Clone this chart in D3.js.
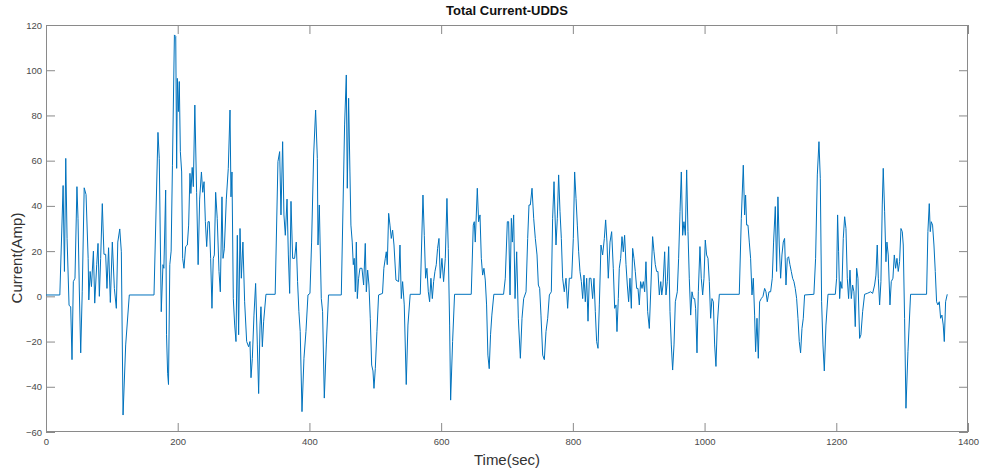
<!DOCTYPE html>
<html>
<head>
<meta charset="utf-8">
<script src="https://cdn.jsdelivr.net/npm/d3@7"></script>
<style>
  body { margin: 0; background: #fff; }
  svg { display: block; font-family: "Liberation Sans", Arial, Helvetica, sans-serif; }
</style>
</head>
<body>
<svg id="chart"></svg>
<script>
// Values (time in s, current in A)
const timeSec = [
  0, 21, 26, 28, 30, 32, 35, 37.5, 39.5, 41.5, 44, 47, 48.6, 50.6, 52.7, 55, 58, 60.8, 64, 65,
  67, 69, 72, 74, 77, 79, 81, 83, 85.5, 88, 90.6, 92.6, 95, 97.7, 100.7, 103.8, 106.8, 109, 112, 114.4,
  117, 121, 126.5, 164, 170, 172, 175, 177.6, 179, 181.7, 183, 184.7, 186, 188, 190, 192, 195, 197, 198.4, 199.4,
  201, 202.4, 204, 206, 207.5, 209.5, 212, 214.6, 216.6, 218.6, 220, 222, 223.7, 226, 228.7, 231, 233.3, 236, 238, 240,
  242, 244, 246, 248, 250, 252, 254, 255.6, 257.6, 260, 262.7, 264.7, 267.2, 268.8, 270.8, 273.8, 276.8, 279.4, 280.9, 282.4,
  284.4, 286.5, 288.5, 290.5, 292.5, 294.6, 296.6, 299, 301.6, 304.7, 307.7, 309.7, 311.3, 313.3, 315.8, 318.3, 320.9, 322.9, 325, 326.4,
  328.5, 330.5, 334, 348, 352.2, 354.8, 356.8, 359.3, 361.3, 363.4, 366, 368, 370, 372, 374.5, 377.5, 380, 382, 384, 386,
  388.7, 391.7, 394.7, 397.8, 400.8, 403.3, 406.4, 409.4, 412, 413, 415, 418, 420, 422.6, 425.6, 429, 448.4, 453.4, 456, 457.5,
  459.5, 461.5, 463, 465, 466.6, 468, 469.7, 471.2, 472.7, 474.7, 476.7, 479.8, 482.3, 484.8, 486.4, 488.4, 490.4, 492.4, 494.5, 496.5,
  498, 500, 502.5, 505, 511, 513, 515.2, 516.7, 518.2, 520.3, 522.3, 524.3, 526.3, 528.4, 531.4, 535.4, 537.5, 539.5, 541.5, 544,
  547, 549.6, 553, 568.3, 572.4, 574.4, 576.4, 578.4, 580.5, 582.5, 584.5, 586.6, 588.6, 590.6, 592.6, 594.6, 596.7, 598.7, 601.2, 603.7,
  606.3, 608.8, 610.8, 612.9, 614.4, 617.4, 620.4, 645.7, 648.8, 650.3, 651.8, 654.9, 656.9, 659, 661, 663, 665, 667, 669, 671,
  673, 675, 677, 680, 694.8, 697.4, 700.5, 702.5, 704.6, 706.6, 708.1, 710.1, 712.2, 714.7, 717.2, 720.3, 722.8, 725.3, 728.9, 731.4,
  733.4, 735.4, 738, 740.5, 743, 745.6, 747.6, 749.6, 751.6, 754.2, 756.7, 759.2, 761.8, 764.3, 767.3, 769.3, 771.4, 772.9, 774.4, 776.4,
  778.4, 780.5, 782.5, 784.5, 787, 789.6, 792.1, 794.6, 798.2, 800.7, 802.7, 804.8, 806.8, 808.8, 810.8, 812.9, 814.9, 816.9, 818.9, 821,
  823, 825, 827.5, 830, 832.1, 834.1, 836.1, 838.2, 840.2, 842.7, 845.2, 847.8, 849.8, 851.8, 853.8, 856.4, 858.9, 861.4, 863.5, 865.5,
  867, 869, 870.5, 872.6, 874.6, 876.6, 878.6, 880.7, 882.7, 884.7, 886.7, 888.8, 890.8, 892.8, 894.8, 896.9, 898.9, 900.9, 902.9, 905,
  907, 909, 911, 913.6, 916.1, 918.6, 921.1, 923.2, 925.2, 927.2, 929.2, 931.3, 933.5, 935, 936.9, 939.4, 941.4, 943.4, 945.5, 947.5,
  949.5, 951.5, 953.6, 955.6, 958.6, 960.6, 962.7, 964.7, 966.7, 968.7, 970.8, 972.8, 974.8, 976.8, 978.9, 980.9, 982.9, 984.9, 986.4, 988.5,
  990.5, 993, 995, 997.1, 999.1, 1001.1, 1003.1, 1005.2, 1007.2, 1009.2, 1011.2, 1013.3, 1015.3, 1017.3, 1019.3, 1022.4, 1052.7, 1055.8, 1058.8, 1060.8,
  1062.3, 1063.9, 1065.9, 1067.9, 1069.9, 1072, 1074, 1076, 1077.5, 1079.6, 1081.6, 1083.6, 1086.1, 1088.7, 1091.2, 1093.2, 1095.2, 1097.8, 1100.3, 1102.8,
  1104.8, 1107.4, 1109.4, 1111.4, 1113.4, 1115.5, 1117.5, 1119.5, 1121.5, 1123.6, 1125.6, 1127.6, 1129.6, 1131.7, 1133.7, 1135.7, 1137.7, 1139.8, 1141.8, 1143.8,
  1145.8, 1147.9, 1149.9, 1151.9, 1166, 1168.6, 1171.2, 1173.7, 1175.7, 1177.7, 1179.8, 1181.8, 1184.3, 1187.4, 1198.5, 1200.5, 1202, 1203.5, 1205.1, 1206.6,
  1208.6, 1210.6, 1212.7, 1214.7, 1216.7, 1218.7, 1220.8, 1222.8, 1224.8, 1226.8, 1228.8, 1230.9, 1232.9, 1235.4, 1237.4, 1240, 1243, 1247, 1252.1, 1255.2,
  1258.2, 1260.2, 1262.2, 1263.8, 1265.8, 1267.8, 1269.8, 1271.3, 1273.4, 1275.4, 1276.9, 1278.9, 1281.5, 1283.5, 1286, 1288.1, 1290.1, 1292.1, 1294.1, 1296.1,
  1298.2, 1300.2, 1301.7, 1303.7, 1305.8, 1308.8, 1312.8, 1337.1, 1339.1, 1341.2, 1342.7, 1344.2, 1346.2, 1348.3, 1350.3, 1352.3, 1354.3, 1356.4, 1358.4, 1360.4,
  1362.4, 1364, 1366, 1368.5
];

const currentAmp = [
  0.6, 0.6, 49, 11, 61, 25.6, -4, -4.6, -28, 6.5, 8, 48.5, 34.5, 2.8, -25, 2, 48, 45, 16.8, -1.6,
  11, 4.3, 20, -3, 14, 23.4, 0, 16.8, 41, 18.6, 18.6, 3.5, 21.5, -2.7, 24, 3.5, -5.3, 24, 29.8, 19.7,
  -52.5, -21.5, 0.6, 0.6, 72.5, 61, -6.8, 14, 12.4, 47, -17, -34, -39, 14, 20, 58, 115.6, 115, 56.6, 96.4,
  81.7, 95, 64, 55, 16.8, 12.4, 22, 22.7, 31.5, 54.4, 45.5, 57, 48.5, 84.6, 46, 14, 43, 55, 46, 50.7,
  33, 22, 33, 33, 16.8, -5.3, 16.8, 18.3, 46, 34.5, 11, 2, 44, 16.8, 21, 43, 56.6, 82.4, 44, 55,
  -1, -12.7, -20, 27, -17, 30, 8, 24, -2.4, -20, -22.3, -20, -36, -27.4, -8.3, 5.7, -21.5, -43, -12.7, -4.6,
  -22.3, -11, 0.9, 0.9, 59.6, 64, 36, 68.4, 36, 27, 43, 18.3, 1.3, 42, 16.8, 16.8, 24, 6.5, -6.8, -15.6,
  -51, -27.4, -15.6, 0.6, 1.3, 24, 62.5, 82.4, 61, 22.7, 40.4, -1, -6.8, -45, -21.5, 0.6, 0.6, 75.8, 97.9, 47.8,
  87.6, 55, 31.5, 24, 14, 16.8, 2, 24, -1, 8, 12.4, 12.4, 5, 23.4, 2, 11.6, 5, -9.7, -30.4, -33,
  -40.7, -32, -15.6, 0.6, 1.3, 12.4, 16.8, 19.7, 14, 36.7, 31.5, 25.6, 29.3, 22.7, 7.2, 6.5, 22.7, -1, 6.5, -3.8,
  -39, -12.7, 0.9, 0.9, 44.8, 27, 8, 12.4, 2, -2.4, 8, -1, 6.5, 11, 14, 21.2, 25.6, 8, 16.8, 6.5,
  16.8, 43.3, 21.2, -12.7, -45.9, -20, 0.9, 0.9, 31.5, 33, 24, 47.8, 33, 36, 16.8, 9.4, 12.4, 7.2, -3.8, -26,
  -32, -17, -8.3, 0.9, 0.9, 8, 33, 33, 0.6, 34.5, 24, 36, -1, 19.7, -9.7, -27.4, -9.7, -1, 2, 25.6,
  40.4, 40.4, 47.8, 34.5, 25.6, 18.3, 5, 3.5, -8.3, -26, -28, -15.6, -9.7, 0.6, 2, 34.5, 50.7, 36, 22.7, 34.5,
  53.7, 37.4, 25.6, 8, 2, 8, -5.3, 8, 8, 25.6, 55, 43.3, 31.5, 19.7, 11, 6.5, -1, 9.4, -2.4, 8,
  -11, 8, 8, -1, 8, -6.8, -20, -23, -3.8, 22.7, 18.3, 25.6, 33.8, 24, 8, 24, 28.6, 12.4, -5.3, -3.8,
  -15.6, -1, 12.4, 16.8, 26.4, 19.7, 27, 14, 5, -2.4, 8, -5.3, 21.2, 16.8, 11, 3.5, 3.5, -3.8, 6.5, 3.5,
  6.5, 2, 15.3, -6.8, -14.2, 5, 26.4, 19.7, 14, 11, 11, 0.6, 6.5, 0.6, 5, 19.7, 0.6, 6.5, 22, -6.8,
  -21.5, -32.6, -21.5, -2.4, 2, 16.8, 37.4, 55, 27, 33, 27, 55.9, 28.6, 8, -8.3, 2, -1, -1, -5.3, -25,
  2, 22, 8, 0.6, 8, 24.9, 18.3, 16.8, 6.5, -9.7, -1, -2.4, -21.5, -31, -12.7, 0.9, 0.9, 34.5, 58, 36,
  44.8, 31.5, 31.5, 24, 16.8, 0.6, 8, -8.3, -24.5, -9.7, -27.4, -2.4, -1, 0, 3.5, 2, -2.4, 2, 2, 8,
  24, 39.7, 11, 44, 22.7, 8, 18.3, 24, 25.6, 5, 16.8, 17.5, 14, 11, 8, 6.5, 3.5, -1, -9.7, -20,
  -25, -14.2, -9.7, 0.6, 0.9, 16.8, 53.7, 68.4, 52.2, -2.4, -21.5, -33, -12.7, 0.9, 0.9, 8, 36, 19.7, -1, 6.5,
  3.5, 25.6, 35.2, 30, 8, -1, 11.6, -1, 5, 2, -13.4, 12.4, 8, -18.6, -17, -6.8, 0.9, 1.3, 2, 1.3,
  5, 9.4, 22.7, 8, -3.8, 6.5, 40.4, 56.6, 37.4, 15.3, 24, 18.3, -3.8, 6.5, 8, 18.3, 12.4, 16.8, 11, 15.3,
  30, 28.6, 22.7, -9.7, -49.5, -24.5, 0.9, 0.9, 28.6, 41, 28.6, 33, 31.5, 22.7, 11, -2.4, -3.8, -2.4, -9.7, -8.3,
  -12.7, -20, -2.4, 0.9
];

const xTicks = [0, 200, 400, 600, 800, 1000, 1200, 1400];
const yTicks = [-60, -40, -20, 0, 20, 40, 60, 80, 100, 120];

const chartTitle = "Total Current-UDDS";
const xLabel = "Time(sec)";
const yLabel = "Current(Amp)";

// Chart size and margins
let width = 981;
let height = 472;
let margin = { top: 25, right: 13, bottom: 40, left: 46 };

let svg = d3.select("#chart")
    .attr("width", width)
    .attr("height", height);

let xScale = d3.scaleLinear()
    .domain([0, 1400])
    .range([margin.left, width - margin.right]);

let yScale = d3.scaleLinear()
    .domain([-60, 120])
    .range([height - margin.bottom, margin.top]);

let axisColor = "#8a8a8a";
let tickLen = 9;
let fmt = d3.format("d");

function styleAxis(g, showText) {
    g.select(".domain").remove();
    g.selectAll(".tick line").attr("stroke", axisColor);
    g.selectAll(".tick text")
        .attr("fill", "#4a4a4a")
        .style("font-size", "9.5px")
        .style("font-family", "'Liberation Sans', Arial, sans-serif")
        .style("display", showText ? null : "none");
}

// Bottom and left axes with labels, ticks pointing inward
svg.append("g")
    .attr("transform", `translate(0, ${height - margin.bottom})`)
    .call(d3.axisBottom(xScale).tickValues(xTicks).tickFormat(fmt).tickSizeInner(-tickLen).tickSizeOuter(0).tickPadding(6))
    .call(g => styleAxis(g, true));

svg.append("g")
    .attr("transform", `translate(${margin.left}, 0)`)
    .call(d3.axisLeft(yScale).tickValues(yTicks).tickFormat(fmt).tickSizeInner(-tickLen).tickSizeOuter(0).tickPadding(4))
    .call(g => styleAxis(g, true));

// Top and right ticks (box)
svg.append("g")
    .attr("transform", `translate(0, ${margin.top})`)
    .call(d3.axisTop(xScale).tickValues(xTicks).tickSizeInner(-tickLen).tickSizeOuter(0))
    .call(g => styleAxis(g, false));

svg.append("g")
    .attr("transform", `translate(${width - margin.right}, 0)`)
    .call(d3.axisRight(yScale).tickValues(yTicks).tickSizeInner(-tickLen).tickSizeOuter(0))
    .call(g => styleAxis(g, false));

svg.append("rect")
    .attr("x", margin.left + 0.5)
    .attr("y", margin.top + 0.5)
    .attr("width", width - margin.left - margin.right - 1)
    .attr("height", height - margin.top - margin.bottom - 1)
    .attr("fill", "none")
    .attr("stroke", axisColor)
    .attr("stroke-width", 1);

// The current trace
let line = d3.line()
    .x((d, i) => xScale(timeSec[i]))
    .y(d => yScale(d));

svg.append("path")
    .datum(currentAmp)
    .attr("d", line)
    .attr("fill", "none")
    .attr("stroke", "#0072BD")
    .attr("stroke-width", 1)
    .attr("stroke-linejoin", "round");

// Title and axis labels
svg.append("text")
    .attr("x", (margin.left + width - margin.right) / 2)
    .attr("y", 15)
    .attr("text-anchor", "middle")
    .style("font-size", "13px")
    .style("font-weight", "bold")
    .attr("fill", "#111")
    .text(chartTitle);

svg.append("text")
    .attr("x", (margin.left + width - margin.right) / 2)
    .attr("y", 465)
    .attr("text-anchor", "middle")
    .style("font-size", "15px")
    .attr("fill", "#333")
    .text(xLabel);

svg.append("text")
    .attr("transform", "translate(22, 258) rotate(-90)")
    .attr("text-anchor", "middle")
    .style("font-size", "15px")
    .attr("fill", "#333")
    .text(yLabel);
</script>
</body>
</html>
